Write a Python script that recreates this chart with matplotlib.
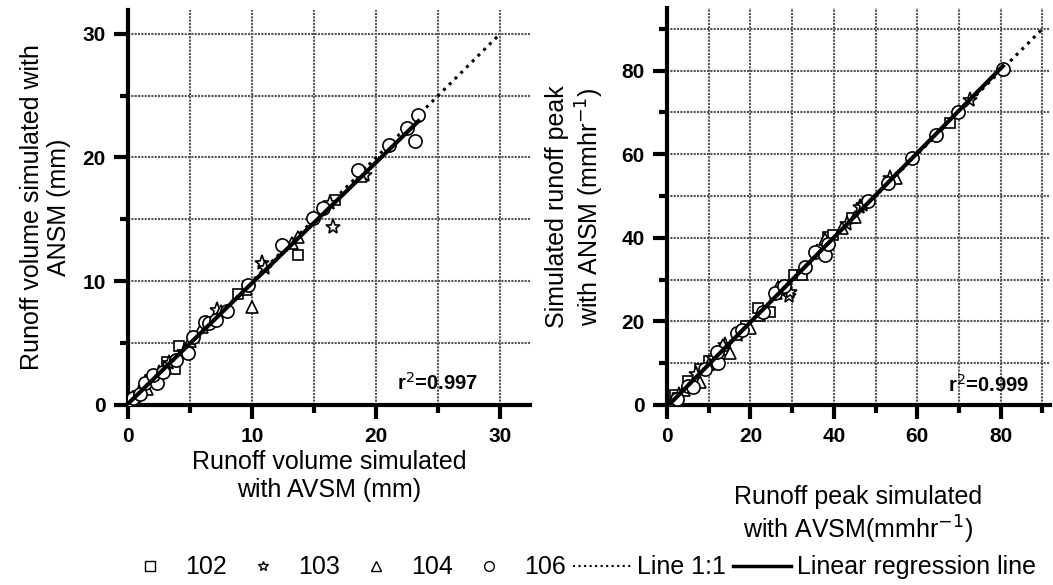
import matplotlib
matplotlib.use('Agg')
import matplotlib.pyplot as plt
from matplotlib.lines import Line2D
from matplotlib.ticker import MultipleLocator
import numpy as np

plt.rcParams['font.family'] = ['Liberation Sans', 'DejaVu Sans']

# ---- runoff volume (mm): AVSM (x) vs ANSM (y) ----
vol_102_x = [0.6, 1.8, 3.1, 3.8, 4.1, 8.9, 13.7, 16.7]
vol_102_y = [0.4, 2.0, 3.5, 2.9, 4.8, 9.0, 12.1, 16.6]
vol_103_x = [0.9, 2.5, 3.3, 4.5, 7.2, 10.8, 11.0, 16.3, 16.5, 19.1]
vol_103_y = [1.0, 2.6, 3.4, 4.3, 7.7, 11.5, 11.1, 16.3, 14.4, 18.6]
vol_104_x = [0.3, 1.5, 3.0, 5.0, 6.0, 7.5, 9.5, 10.0, 13.2, 13.7, 18.8]
vol_104_y = [0.2, 1.3, 3.1, 5.2, 6.3, 7.6, 9.4, 7.9, 13.1, 13.6, 18.5]
vol_106_x = [0.4, 1.0, 1.4, 2.3, 2.0, 2.8, 3.9, 4.8, 5.2, 6.2, 6.5, 7.1, 8.0,
             9.7, 12.4, 14.9, 15.7, 18.5, 21.0, 22.5, 23.4, 23.1]
vol_106_y = [0.6, 0.9, 1.8, 1.8, 2.4, 2.7, 3.6, 4.2, 5.5, 6.7, 6.6, 6.9, 7.6,
             9.7, 12.9, 15.1, 15.9, 19.0, 21.0, 22.4, 23.4, 21.3]

# ---- runoff peak (mm/hr): AVSM (x) vs ANSM (y) ----
pk_102_x = [2.0, 5.0, 8.0, 10.0, 14.0, 19.0, 21.8, 24.7, 30.5, 32.3, 38.7, 39.9, 44.3, 67.9]
pk_102_y = [2.5, 5.8, 8.5, 10.5, 13.2, 18.8, 23.3, 22.3, 31.0, 31.2, 40.3, 40.8, 44.8, 67.6]
pk_103_x = [3.0, 7.0, 11.0, 14.0, 17.0, 29.2, 29.5, 36.0, 43.1, 46.3, 47.0, 53.5, 72.7]
pk_103_y = [2.5, 7.4, 11.2, 14.4, 16.8, 26.2, 27.0, 36.5, 43.2, 47.5, 47.8, 54.4, 73.1]
pk_104_x = [1.5, 4.0, 7.9, 10.0, 13.4, 15.1, 19.9, 22.0, 26.1, 26.6, 37.9, 41.9, 45.0, 55.0]
pk_104_y = [1.2, 3.5, 5.5, 9.8, 14.4, 12.5, 18.5, 21.5, 26.9, 28.3, 39.8, 42.4, 45.0, 54.4]
pk_106_x = [2.5, 5.0, 6.3, 9.0, 12.2, 12.0, 16.8, 18.0, 23.0, 25.9, 28.0, 33.0, 35.5,
            37.9, 38.5, 48.2, 53.0, 58.8, 64.5, 69.8, 80.5]
pk_106_y = [1.5, 4.5, 4.3, 8.7, 10.0, 12.7, 17.3, 18.0, 22.3, 26.9, 28.5, 33.0, 36.7,
            36.0, 38.5, 48.7, 53.2, 59.2, 64.7, 70.0, 80.5]

sites = ['102', '103', '104', '106']
markers = ['s', '*', '^', 'o']
marker_sizes = [7.5, 11, 9, 9.5]


def draw_panel(ax, xs, ys, lim, one_to_one, major, minor, r2_text, r2_pos):
    for x, y, m, ms in zip(xs, ys, markers, marker_sizes):
        ax.plot(x, y, linestyle='none', marker=m, markersize=ms,
                markerfacecolor='white', markeredgecolor='black', markeredgewidth=1.2,
                zorder=3)
    # 1:1 line
    ax.plot([0, one_to_one], [0, one_to_one], ':', color='black', lw=2.2, zorder=2)
    # linear regression over the data range
    all_x = np.concatenate([np.array(v) for v in xs])
    all_y = np.concatenate([np.array(v) for v in ys])
    slope, icept = np.polyfit(all_x, all_y, 1)
    xr = np.array([0, all_x.max()])
    ax.plot(xr, slope * xr + icept, '-', color='black', lw=3, zorder=4)

    ax.set_xlim(0, lim[0])
    ax.set_ylim(0, lim[1])
    ax.xaxis.set_major_locator(MultipleLocator(major))
    ax.yaxis.set_major_locator(MultipleLocator(major))
    ax.xaxis.set_minor_locator(MultipleLocator(minor))
    ax.yaxis.set_minor_locator(MultipleLocator(minor))
    ax.grid(True, which='both', linestyle=(0, (1, 0.6)), color='#555555', lw=1.5, zorder=0)
    ax.set_axisbelow(True)
    for s in ['top', 'right']:
        ax.spines[s].set_visible(False)
    for s in ['left', 'bottom']:
        ax.spines[s].set_linewidth(3)
    ax.tick_params(which='major', length=10, width=3, labelsize=15, pad=6)
    ax.tick_params(which='minor', length=6, width=3)
    for lab in ax.get_xticklabels() + ax.get_yticklabels():
        lab.set_fontweight('bold')
    ax.text(r2_pos[0], r2_pos[1], r2_text, transform=ax.transAxes, ha='right', va='center',
            fontsize=14.5, fontweight='bold')


fig = plt.figure(figsize=(10.53, 5.85), dpi=100)
ax1 = fig.add_axes([0.1216, 0.3077, 0.3818, 0.675])
ax2 = fig.add_axes([0.6334, 0.3077, 0.3637, 0.6786])

draw_panel(ax1, [vol_102_x, vol_103_x, vol_104_x, vol_106_x],
           [vol_102_y, vol_103_y, vol_104_y, vol_106_y],
           (32.4, 31.9), 30, 10, 5, r'r$^2$=0.997', (0.87, 0.055))
draw_panel(ax2, [pk_102_x, pk_103_x, pk_104_x, pk_106_x],
           [pk_102_y, pk_103_y, pk_104_y, pk_106_y],
           (91.8, 95.0), 90, 20, 10, r'r$^2$=0.999', (0.945, 0.05))

ax1.set_xlabel('Runoff volume simulated\nwith AVSM (mm)', fontsize=18, labelpad=3)
ax1.set_ylabel('Runoff volume simulated with\nANSM (mm)', fontsize=18, labelpad=8)
ax2.set_xlabel('Runoff peak simulated\nwith AVSM(mmhr$^{-1}$)', fontsize=18, labelpad=28)
ax2.set_ylabel('Simulated runoff peak\nwith ANSM (mmhr$^{-1}$)', fontsize=18, labelpad=11)

handles = [Line2D([], [], linestyle='none', marker=m, markersize=7,
                  markerfacecolor='white', markeredgecolor='black', markeredgewidth=1.0)
           for m in markers]
handles.append(Line2D([], [], linestyle=':', color='black', lw=1.5))
handles.append(Line2D([], [], linestyle='-', color='black', lw=2.5))
labels = sites + ['Line 1:1', 'Linear regression line']
fig.legend(handles, labels, loc='center left', bbox_to_anchor=(0.103, 0.03),
           ncol=6, frameon=False, fontsize=18, handlelength=2.3,
           handletextpad=0.25, columnspacing=0.3, borderpad=0)

fig.savefig('out.png', dpi=100)
